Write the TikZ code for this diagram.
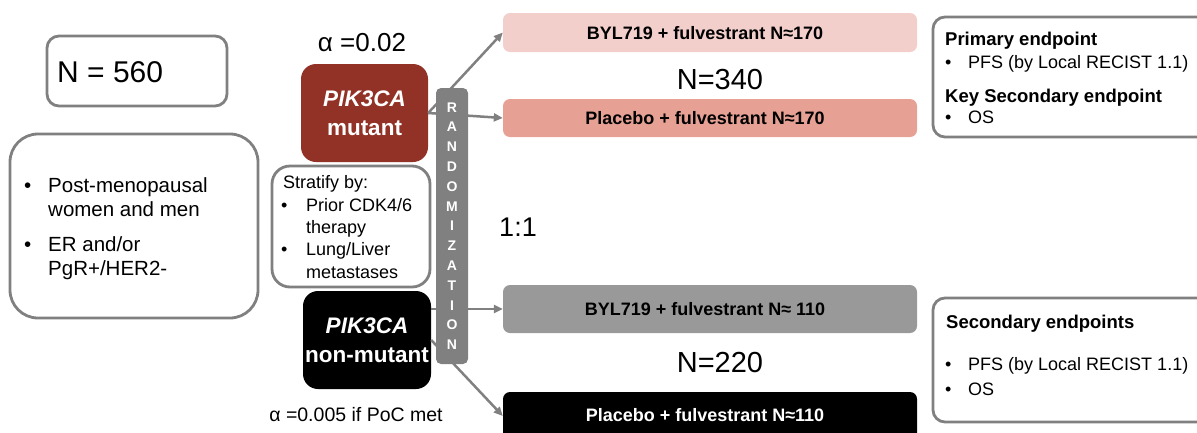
\documentclass[tikz,border=0pt]{standalone}
\usepackage{fontspec}
\setmainfont{Liberation Sans}
\usetikzlibrary{arrows.meta}
\definecolor{mutred}{RGB}{146,50,38}
\definecolor{armpink}{RGB}{242,207,202}
\definecolor{armsalmon}{RGB}{230,160,148}
\definecolor{armgray}{RGB}{153,153,153}
\definecolor{bordergray}{RGB}{128,128,128}
\begin{document}
\begin{tikzpicture}[x=1pt,y=-1pt,
  frame/.style={draw=bordergray, line width=2.8pt, inner sep=0pt},
  arm/.style={rounded corners=7pt, inner sep=0pt, minimum width=414pt},
  armtext/.style={inner sep=0pt, font=\fontsize{18}{20}\selectfont\bfseries},
  grp/.style={rounded corners=15pt, inner sep=0pt, minimum width=127pt, minimum height=98pt, text=white, align=center, font=\fontsize{22.5}{28.5}\selectfont\bfseries},
  conn/.style={draw=bordergray, line width=2.5pt, -{Triangle[length=9pt,width=8pt]}},
  txt/.style={inner sep=0pt, anchor=base west},
  big/.style={inner sep=0pt, font=\fontsize{29}{32}\selectfont},
]
\useasboundingbox (0,0) rectangle (1197,432);
\clip (0,0) rectangle (1197,432);

% N = 560
\node[frame, rounded corners=12pt, minimum width=180pt, minimum height=70pt] (nbox) at (137,71) {};
\node[txt, font=\fontsize{30}{32}\selectfont] (ntext) at (57,82) {N = 560};

% eligibility
\node[frame, rounded corners=28pt, minimum width=248pt, minimum height=184pt] (elig) at (134,226) {};
\begin{scope}[every node/.style={txt, font=\fontsize{20.5}{24}\selectfont}]
\node (e1b) at (24,192) {•};
\node (e1) at (48,192) {Post-menopausal};
\node (e2) at (48,216) {women and men};
\node (e3b) at (24,251) {•};
\node (e3) at (48,251) {ER and/or};
\node (e4) at (48,275) {PgR+/HER2-};
\end{scope}

% alpha labels
\node[inner sep=0pt, font=\fontsize{26}{28}\selectfont] (alpha1) at (362,43) {α =0.02};
\node[inner sep=0pt, font=\fontsize{19.5}{22}\selectfont] (alpha2) at (356,415) {α =0.005 if PoC met};

% groups
\node[grp, fill=mutred] (mut) at (364.5,113) {\textit{PIK3CA}\\mutant};
\node[grp, fill=black, minimum width=128pt] (nm) at (367,340) {\textit{PIK3CA}\\non-mutant};

% stratify
\node[frame, rounded corners=18pt, minimum width=158pt, minimum height=121pt] (strat) at (351,226.5) {};
\begin{scope}[every node/.style={txt, font=\fontsize{18}{22}\selectfont}]
\node (s0) at (283,188) {Stratify by:};
\node (s1b) at (281,211) {•};
\node (s1) at (306,211) {Prior CDK4/6};
\node (s2) at (306,233) {therapy};
\node (s3b) at (281,255) {•};
\node (s3) at (306,255) {Lung/Liver};
\node (s4) at (306,278) {metastases};
\end{scope}

% arms
\node[arm, fill=armpink, minimum height=39pt] (a1) at (710,32.5) {};
\node[arm, fill=armsalmon, minimum height=38pt] (a2) at (710,118) {};
\node[arm, fill=armgray, minimum height=48pt] (a3) at (710,309) {};
\node[arm, fill=black, minimum height=48pt] (a4) at (710,416) {};
\node[armtext] (t1) at (705,33) {BYL719 + fulvestrant N≈170};
\node[armtext] (t2) at (705,118) {Placebo + fulvestrant N≈170};
\node[armtext] (t3) at (705,309) {BYL719 + fulvestrant N≈ 110};
\node[armtext, text=white] (t4) at (705,415) {Placebo + fulvestrant N≈110};

\node[big] (n340) at (720,80) {N=340};
\node[big] (n220) at (720,363) {N=220};
\node[inner sep=0pt, font=\fontsize{27}{30}\selectfont] (ratio) at (518,227) {1:1};

% connectors
\draw[conn] (mut.east) -- (a1.west);
\draw[conn] (mut.east) -- (a2.west);
\draw[conn] (nm.east |- a3.west) -- (a3.west);
\draw[conn] (nm.east) -- (a4.west);

% randomization bar
\node[fill=bordergray, rounded corners=5pt, minimum width=32pt, minimum height=276pt, inner sep=0pt, text=white, align=center, font=\fontsize{14}{19.8}\selectfont\bfseries] (rand) at (452,226)
 {R\\A\\N\\D\\O\\M\\I\\Z\\A\\T\\I\\O\\N};

% endpoints
\node[frame, rounded corners=12pt, minimum width=277pt, minimum height=120pt] (ep1) at (1071.5,77) {};
\node[frame, rounded corners=12pt, minimum width=277pt, minimum height=124pt] (ep2) at (1071.5,360) {};
\begin{scope}[every node/.style={txt, font=\fontsize{18}{22}\selectfont}]
\node[font=\fontsize{18.5}{22}\selectfont\bfseries] (p0) at (945,45) {Primary endpoint};
\node (p1b) at (945,68) {•};
\node (p1) at (968,68) {PFS (by Local RECIST 1.1)};
\node[font=\fontsize{18.5}{22}\selectfont\bfseries] (p2) at (945,102) {Key Secondary endpoint};
\node (p3b) at (945,123) {•};
\node (p3) at (968,123) {OS};
\node[font=\fontsize{18.5}{22}\selectfont\bfseries] (q0) at (946,328) {Secondary endpoints};
\node (q1b) at (945,370) {•};
\node (q1) at (968,370) {PFS (by Local RECIST 1.1)};
\node (q2b) at (945,395) {•};
\node (q2) at (968,395) {OS};
\end{scope}
\end{tikzpicture}
\end{document}
